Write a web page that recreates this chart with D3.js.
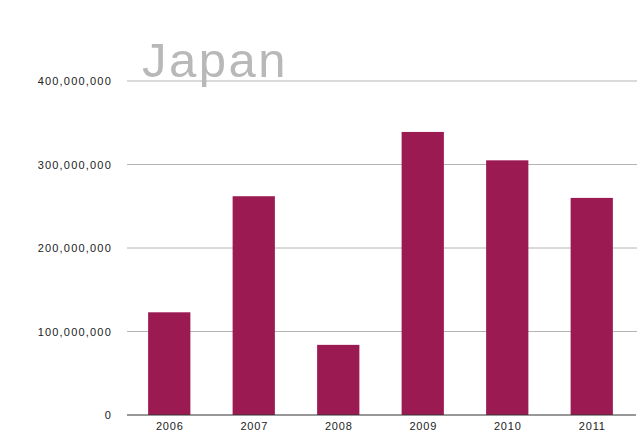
<!DOCTYPE html>
<html><head><meta charset="utf-8">
<script src="https://cdn.jsdelivr.net/npm/d3@7"></script>
<style>body{margin:0;background:#fff}svg{display:block}</style>
</head><body>
<script>
const years = ["2006","2007","2008","2009","2010","2011"];
const values = [123000000, 262000000, 84000000, 339000000, 305000000, 260000000];
const yTicks = [0, 100000000, 200000000, 300000000, 400000000];
const title = "Japan";

const W = 643, H = 447;
const svg = d3.select("body").append("svg").attr("width", W).attr("height", H);
const x = d3.scaleBand().domain(years).range([127, 634]).paddingInner(0.5).paddingOuter(0.25);
const y = d3.scaleLinear().domain([0, 400000000]).range([415, 81]);

svg.append("g").selectAll("line").data(yTicks.filter(d => d > 0)).join("line")
  .attr("x1", 127).attr("x2", 637)
  .attr("y1", d => y(d)).attr("y2", d => y(d))
  .attr("stroke", "#b4b4b4").attr("stroke-width", 1);

svg.append("text").attr("x", 142).attr("y", 77)
  .attr("font-family", "Liberation Sans, Arial, sans-serif")
  .attr("font-size", 49).attr("letter-spacing", 2.5).attr("fill", "#b8b8b8").text(title);

const fmt = d3.format(",");
svg.append("g").selectAll("text").data(yTicks).join("text")
  .attr("x", 112).attr("y", d => y(d) + 4)
  .attr("text-anchor", "end")
  .attr("font-family", "Liberation Sans, Arial, sans-serif")
  .attr("font-size", 11).attr("letter-spacing", 1.2).attr("fill", "#222").text(d => fmt(d));

svg.append("g").selectAll("rect").data(values).join("rect")
  .attr("x", (d, i) => x(years[i])).attr("width", x.bandwidth())
  .attr("y", d => y(d)).attr("height", d => y(0) - y(d))
  .attr("fill", "#9b1a52");

svg.append("line").attr("x1", 127).attr("x2", 636).attr("y1", y(0)).attr("y2", y(0))
  .attr("stroke", "#333").attr("stroke-width", 1);

svg.append("g").selectAll("text").data(years).join("text")
  .attr("x", d => x(d) + x.bandwidth() / 2 + 0.5).attr("y", 430)
  .attr("text-anchor", "middle")
  .attr("font-family", "Liberation Sans, Arial, sans-serif")
  .attr("font-size", 11).attr("letter-spacing", 0.8).attr("fill", "#222").text(d => d);
</script>
</body></html>
